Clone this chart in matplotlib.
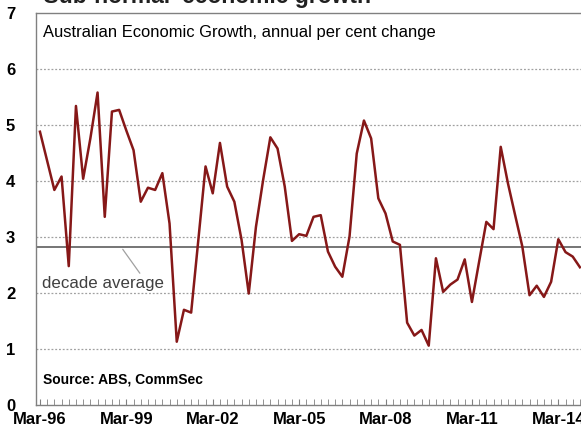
import numpy as np
import matplotlib
matplotlib.use('Agg')
import matplotlib.pyplot as plt
from matplotlib.ticker import MultipleLocator

plt.rcParams['font.family'] = ['Liberation Sans', 'DejaVu Sans']

# Annual per cent change in GDP, quarterly from Mar-96
growth = [4.88, 4.36, 3.84, 4.08, 2.48, 5.34, 4.04, 4.76, 5.58, 3.36,
          5.24, 5.27, 4.90, 4.55, 3.63, 3.88, 3.84, 4.14, 3.24, 1.13,
          1.70, 1.65, 2.95, 4.26, 3.78, 4.68, 3.90, 3.63, 2.95, 1.99,
          3.18, 4.02, 4.78, 4.58, 3.90, 2.93, 3.05, 3.02, 3.36, 3.39,
          2.74, 2.47, 2.29, 3.01, 4.49, 5.08, 4.76, 3.69, 3.42, 2.92,
          2.86, 1.47, 1.24, 1.34, 1.06, 2.62, 2.02, 2.15, 2.24, 2.60,
          1.84, 2.56, 3.27, 3.14, 4.61, 3.96, 3.39, 2.83, 1.96, 2.13,
          1.93, 2.20, 2.96, 2.73, 2.65, 2.46]
decade_avg = 2.82
tick_labels = ['Mar-96', 'Mar-99', 'Mar-02', 'Mar-05', 'Mar-08', 'Mar-11', 'Mar-14']

x = np.arange(len(growth))

fig = plt.figure(figsize=(5.81, 4.26), dpi=100)
ax = fig.add_axes([36 / 581, 1 - 405 / 426, 1 - 36 / 581, (405 - 13) / 426])

ax.plot(x, growth, color='#861818', linewidth=1.8, zorder=3)
ax.axhline(decade_avg, color='#505050', linewidth=1.1, zorder=2)

ax.set_ylim(0, 7)
ax.set_xlim(-0.55, 75.15)
ax.yaxis.set_major_locator(MultipleLocator(1))
for v in range(1, 7):
    ax.axhline(v, color='#a0a0a0', linewidth=0.9, linestyle=(0, (1.5, 1.5)), zorder=1)

ax.set_xticks(x[::12][:len(tick_labels)])
ax.set_xticklabels(tick_labels)
ax.xaxis.set_minor_locator(MultipleLocator(1))
ax.tick_params(axis='x', which='major', direction='in', length=4, color='#808080',
               labelsize=12, pad=5)
ax.tick_params(axis='x', which='minor', direction='in', length=4, color='#808080')
ax.tick_params(axis='y', length=0, labelsize=12, pad=15)
for lab in ax.get_xticklabels() + ax.get_yticklabels():
    lab.set_fontweight('bold')

for side in ['left', 'bottom', 'top']:
    ax.spines[side].set_color('#808080')
    ax.spines[side].set_linewidth(1.0)
ax.spines['right'].set_visible(False)

ax.text(0.012, 0.95, 'Australian Economic Growth, annual per cent change',
        transform=ax.transAxes, fontsize=11.9, va='center', ha='left', color='black')
ax.text(0.012, 0.064, 'Source: ABS, CommSec', transform=ax.transAxes,
        fontsize=10, fontweight='bold', va='center', ha='left')

ax.annotate('decade average', xy=(11.5, decade_avg - 0.04), xytext=(0.25, 2.17),
            fontsize=12.2, color='#404040', va='center', ha='left',
            arrowprops=dict(arrowstyle='-', color='#a0a0a0', linewidth=0.9,
                            shrinkA=0, shrinkB=0, relpos=(0.82, 1.0)))

fig.text(38 / 581, 1 - 3 / 426, "'Sub-normal' economic growth", fontsize=16.5,
         fontweight='bold', va='baseline', ha='left', color='#202020')

fig.savefig('out.png', dpi=100)
